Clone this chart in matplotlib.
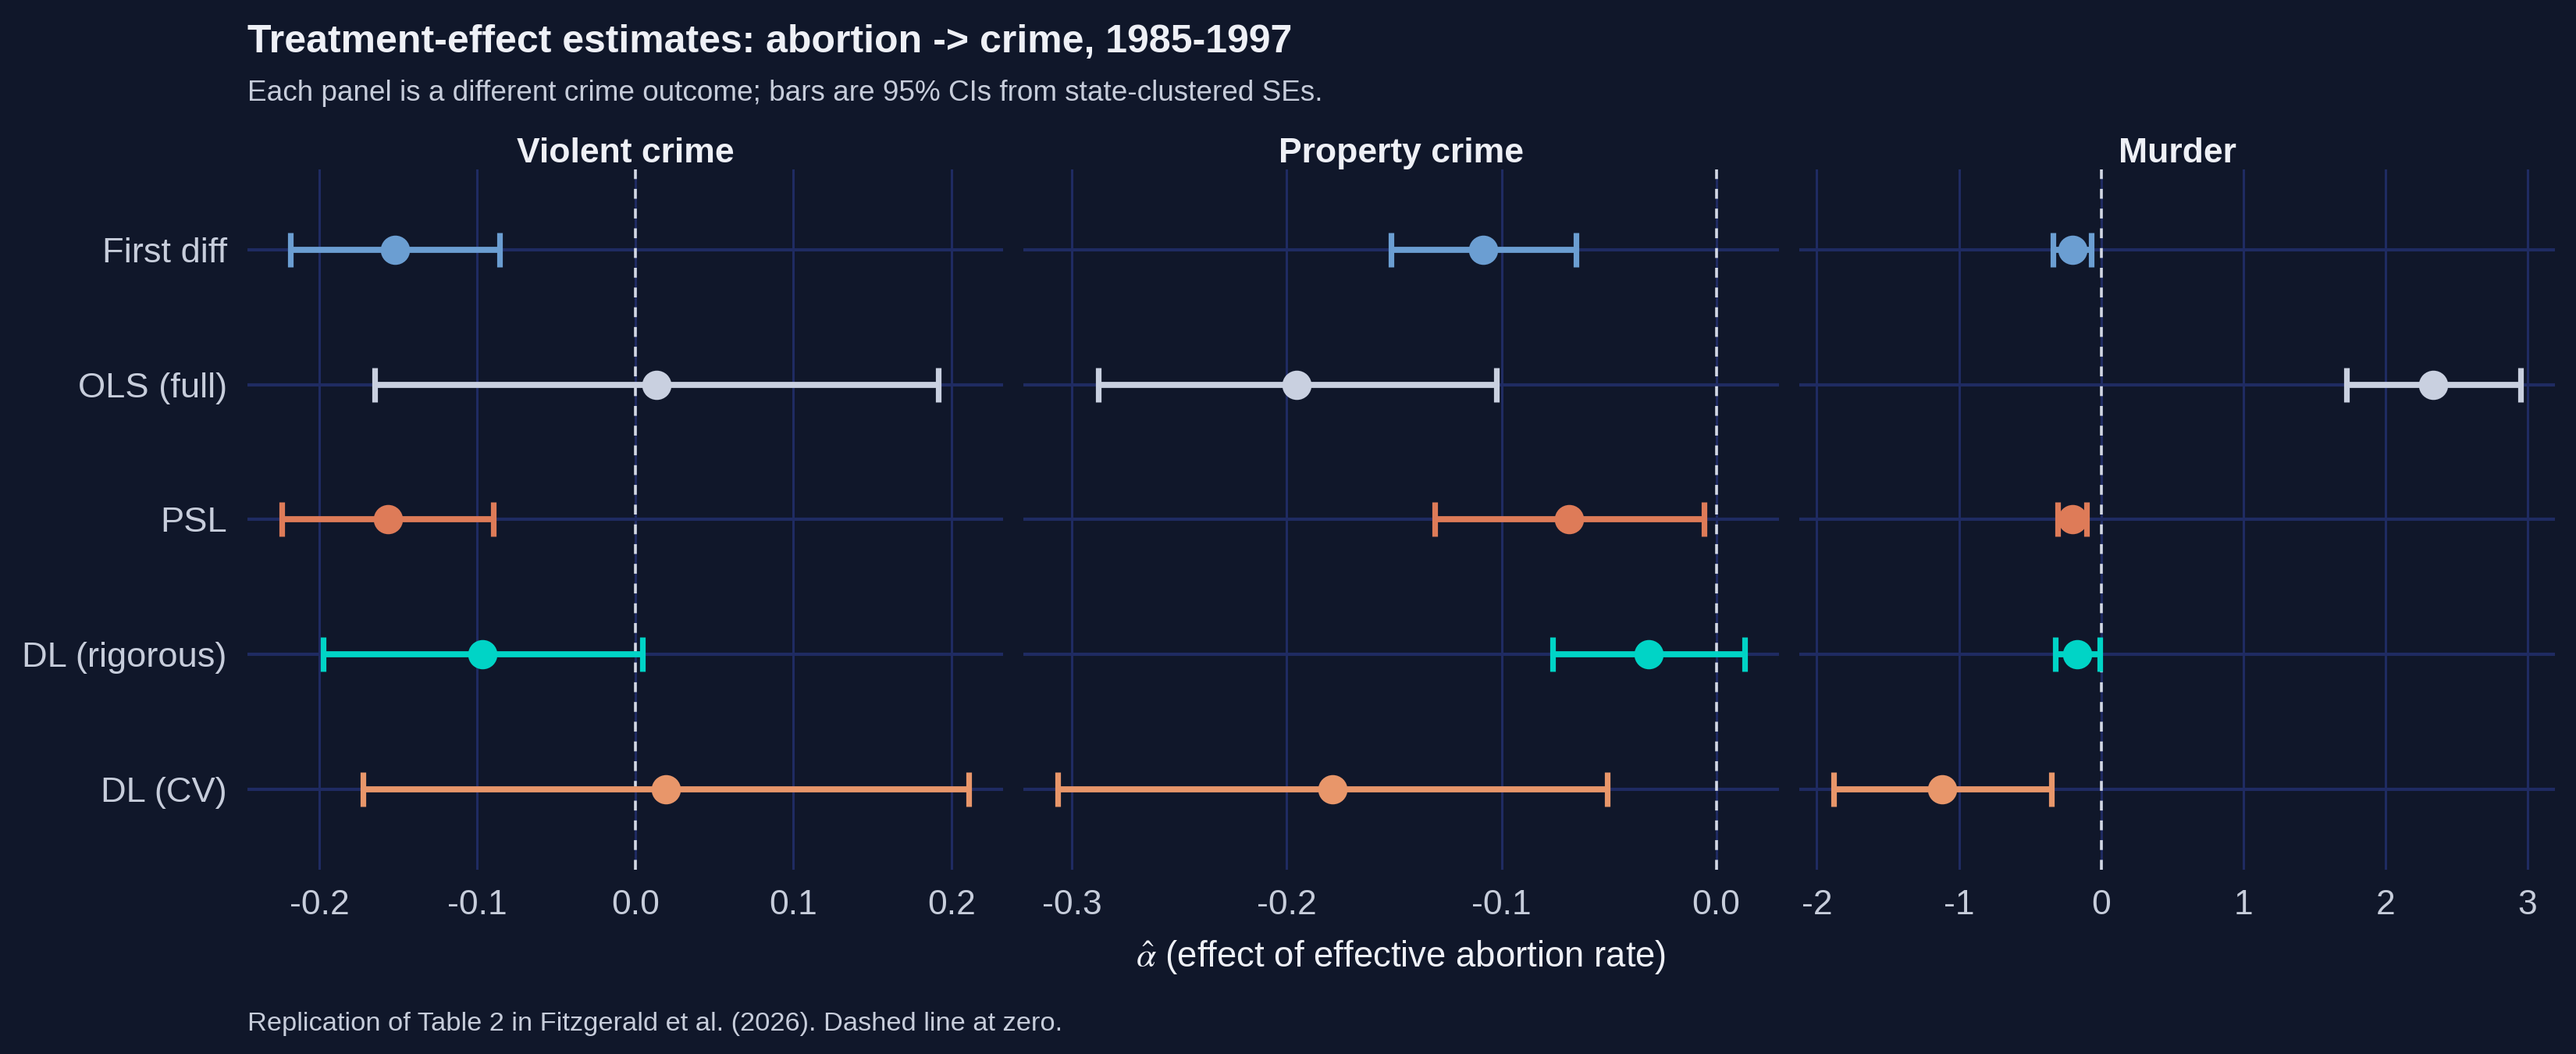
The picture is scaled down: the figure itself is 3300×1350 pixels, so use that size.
import matplotlib
matplotlib.use("Agg")
import matplotlib.pyplot as plt

# Estimators, top to bottom
METHODS = ["First diff", "OLS (full)", "PSL", "DL (rigorous)", "DL (CV)"]
METHOD_COLOURS = ["#6b9ed2", "#c9d0e0", "#de7b58", "#00d4c6", "#e8966a"]

PANELS = ["Violent crime", "Property crime", "Murder"]

# point estimates and 95% CI bounds, one list per panel (order of METHODS)
EST_VIOLENT = [-0.152, 0.0135, -0.1565, -0.0966, 0.0193]
LO_VIOLENT = [-0.218, -0.1647, -0.2236, -0.1974, -0.1724]
HI_VIOLENT = [-0.0857, 0.1918, -0.0898, 0.0045, 0.2109]

EST_PROPERTY = [-0.1086, -0.1953, -0.0684, -0.0316, -0.1788]
LO_PROPERTY = [-0.1515, -0.2878, -0.1311, -0.0761, -0.3066]
HI_PROPERTY = [-0.0654, -0.1025, -0.0058, 0.0132, -0.0506]

EST_MURDER = [-0.204, 2.335, -0.204, -0.168, -1.118]
LO_MURDER = [-0.336, 1.728, -0.307, -0.322, -1.881]
HI_MURDER = [-0.072, 2.95, -0.104, -0.011, -0.35]

X_TICKS = [[-0.2, -0.1, 0.0, 0.1, 0.2],
           [-0.3, -0.2, -0.1, 0.0],
           [-2, -1, 0, 1, 2, 3]]
X_TICKLABELS = [["-0.2", "-0.1", "0.0", "0.1", "0.2"],
                ["-0.3", "-0.2", "-0.1", "0.0"],
                ["-2", "-1", "0", "1", "2", "3"]]

BG = "#10172a"
GRID = "#1f2b62"
TEXT = "#eef0f6"
SUBTEXT = "#c7cddb"
ZERO = "#d3d8e4"

plt.rcParams['font.family'] = ['Liberation Sans', 'DejaVu Sans']
plt.rcParams['mathtext.fontset'] = 'stix'

fig, axes = plt.subplots(1, 3, figsize=(16.5, 6.75), dpi=200, sharey=True)
fig.patch.set_facecolor(BG)
fig.subplots_adjust(left=0.0961, right=0.9918, top=0.8393, bottom=0.1748, wspace=0.027)

data = [(EST_VIOLENT, LO_VIOLENT, HI_VIOLENT),
        (EST_PROPERTY, LO_PROPERTY, HI_PROPERTY),
        (EST_MURDER, LO_MURDER, HI_MURDER)]

ypos = list(range(len(METHODS), 0, -1))

for k, ax in enumerate(axes):
    est, lo, hi = data[k]
    ax.set_facecolor(BG)
    ax.axvline(0, color=ZERO, lw=1.3, dashes=(3.5, 3.5), zorder=2)
    for i in range(len(METHODS)):
        ax.errorbar(est[i], ypos[i], xerr=[[est[i] - lo[i]], [hi[i] - est[i]]],
                    fmt='o', color=METHOD_COLOURS[i], ms=12.5, elinewidth=2.8,
                    capsize=7.8, capthick=2.6, zorder=3)
    ax.margins(x=0.05)
    ax.set_ylim(0.4, len(METHODS) + 0.6)
    ax.set_xticks(X_TICKS[k])
    ax.set_xticklabels(X_TICKLABELS[k])
    ax.set_yticks(ypos)
    ax.set_yticklabels(METHODS)
    ax.grid(True, axis='x', color=GRID, lw=1.1, zorder=0)
    ax.grid(True, axis='y', color=GRID, lw=1.5, zorder=0)
    ax.set_axisbelow(True)
    for s in ax.spines.values():
        s.set_visible(False)
    ax.tick_params(axis='x', length=0, labelsize=16, colors=SUBTEXT, pad=9)
    ax.tick_params(axis='y', length=0, labelsize=16.3, colors=SUBTEXT, pad=9.5)
    ax.set_title(PANELS[k], color=TEXT, fontsize=16, fontweight='bold', pad=2.5)

fig.text(0.0961, 0.9501, "Treatment-effect estimates: abortion -> crime, 1985-1997",
         color=TEXT, fontsize=18, fontweight='bold', va='baseline', ha='left')
fig.text(0.0961, 0.9044, "Each panel is a different crime outcome; bars are 95% CIs from state-clustered SEs.",
         color=SUBTEXT, fontsize=13.3, va='baseline', ha='left')
fig.text((0.0961 + 0.9918) / 2, 1 - 1238 / 1350, r"$\hat{\alpha}$ (effect of effective abortion rate)",
         color=TEXT, fontsize=16.4, va='baseline', ha='center')
fig.text(0.0961, 1 - 1320 / 1350, "Replication of Table 2 in Fitzgerald et al. (2026). Dashed line at zero.",
         color=SUBTEXT, fontsize=12.4, va='baseline', ha='left')

fig.savefig("out.png", dpi=200, facecolor=BG)
